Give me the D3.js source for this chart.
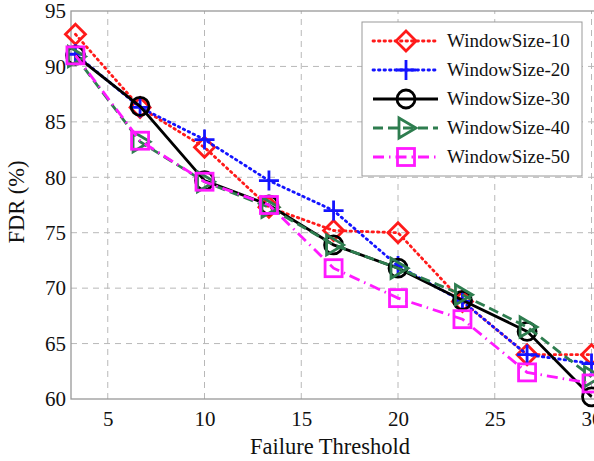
<!DOCTYPE html>
<html>
<head>
<meta charset="utf-8">
<script src="https://cdn.jsdelivr.net/npm/d3@7"></script>
<style>
  body { margin: 0; background: #fff; }
</style>
</head>
<body>
<div id="chart"></div>
<script>
// Donnees
const seuils = [3.33, 6.67, 10, 13.33, 16.67, 20, 23.33, 26.67, 30];
const ws10 = [92.9, 86.3, 82.7, 77.3, 75.2, 75.0, 68.8, 64.0, 64.0];
const ws20 = [91.1, 86.3, 83.4, 79.7, 77.0, 72.0, 68.8, 64.0, 63.2];
const ws30 = [91.0, 86.4, 79.7, 77.5, 73.9, 71.8, 68.9, 66.1, 60.2];
const ws40 = [90.9, 83.2, 79.6, 77.3, 73.9, 71.8, 69.4, 66.5, 62.0];
const ws50 = [91.0, 83.3, 79.6, 77.5, 71.8, 69.1, 67.2, 62.4, 61.4];
const xTicks = [5, 10, 15, 20, 25, 30];
const yTicks = [60, 65, 70, 75, 80, 85, 90, 95];

const POLICE = "Liberation Serif";

const series = [
  {nom: "WindowSize-10", valeurs: ws10, couleur: "#ff1a1a", dash: "1.5,4", marqueur: "diamond"},
  {nom: "WindowSize-20", valeurs: ws20, couleur: "#1414ff", dash: "1.5,4", marqueur: "plus"},
  {nom: "WindowSize-30", valeurs: ws30, couleur: "#000000", dash: null, marqueur: "circle"},
  {nom: "WindowSize-40", valeurs: ws40, couleur: "#2e7d4f", dash: "10,5", marqueur: "triangle"},
  {nom: "WindowSize-50", valeurs: ws50, couleur: "#ff19ff", dash: "11,5,1.5,5", marqueur: "square"}
];

const largeur = 594, hauteur = 461;
const margin = {top: 11, left: 71, bottom: 62};

const svg = d3.select("#chart").append("svg")
    .attr("width", largeur)
    .attr("height", hauteur)
    .style("display", "block");

const x = d3.scaleLinear().domain([3.1, 31]).range([margin.left, margin.left + 27.9 * 19.35]);
const y = d3.scaleLinear().domain([60, 95]).range([hauteur - margin.bottom, margin.top]);

const x0 = x.range()[0], x1 = x.range()[1];
const y0 = y.range()[0], y1 = y.range()[1];

// Grille
const grille = svg.append("g").attr("stroke", "#b8b8b8").attr("stroke-width", 1)
    .attr("stroke-dasharray", "6,5");
grille.selectAll("line.v").data(xTicks).enter().append("line")
    .attr("x1", d => x(d)).attr("x2", d => x(d))
    .attr("y1", y0).attr("y2", y1);
grille.selectAll("line.h").data(yTicks.slice(1, -1)).enter().append("line")
    .attr("x1", x0).attr("x2", x1)
    .attr("y1", d => y(d)).attr("y2", d => y(d));

// Cadre
svg.append("rect")
    .attr("x", x0).attr("y", y1)
    .attr("width", x1 - x0).attr("height", y0 - y1)
    .attr("fill", "none").attr("stroke", "#999").attr("stroke-width", 1.3);

// Axes
const axeX = svg.append("g")
    .attr("transform", "translate(0," + y0 + ")")
    .call(d3.axisBottom(x).tickValues(xTicks).tickSize(0).tickPadding(12));
const axeY = svg.append("g")
    .attr("transform", "translate(" + x0 + ",0)")
    .call(d3.axisLeft(y).tickValues(yTicks).tickSize(0).tickPadding(5));
[axeX, axeY].forEach(a => {
  a.select(".domain").remove();
  a.attr("font-family", POLICE).attr("font-size", 21);
  a.selectAll("text").attr("font-family", POLICE).attr("font-size", 21).attr("fill", "#111");
});

svg.append("text")
    .attr("x", 330).attr("y", 454)
    .attr("text-anchor", "middle")
    .attr("font-family", POLICE)
    .attr("font-size", 22.5).attr("fill", "#111")
    .text("Failure Threshold");

svg.append("text")
    .attr("transform", "translate(24,202) rotate(-90)")
    .attr("text-anchor", "middle")
    .attr("font-family", POLICE)
    .attr("font-size", 22.5).attr("fill", "#111")
    .text("FDR (%)");

// Marqueurs
function dessinerMarqueur(g, type, couleur) {
  const s = 10;
  g.attr("fill", "none").attr("stroke", couleur).attr("stroke-width", 2.8);
  if (type === "diamond") {
    g.append("path").attr("d", `M0,${-s}L${s},0L0,${s}L${-s},0Z`);
  } else if (type === "plus") {
    g.append("path").attr("d", `M${-s},0H${s}M0,${-s}V${s}`);
  } else if (type === "circle") {
    g.append("circle").attr("r", 9);
  } else if (type === "triangle") {
    g.append("path").attr("d", `M${-7},${-s}L${s},0L${-7},${s}Z`);
  } else if (type === "square") {
    g.append("rect").attr("x", -8.5).attr("y", -8.5).attr("width", 17).attr("height", 17);
  }
}

const ligne = d3.line()
    .x((d, i) => x(seuils[i]))
    .y(d => y(d));

series.forEach(s => {
  const g = svg.append("g");
  g.append("path")
      .datum(s.valeurs)
      .attr("d", ligne)
      .attr("fill", "none")
      .attr("stroke", s.couleur)
      .attr("stroke-width", 2.8)
      .attr("stroke-linecap", s.dash && s.dash.startsWith("1.5") ? "round" : "butt")
      .attr("stroke-dasharray", s.dash);
  g.selectAll("g.pt").data(s.valeurs).enter().append("g")
      .attr("transform", (d, i) => "translate(" + x(seuils[i]) + "," + y(d) + ")")
      .each(function() { dessinerMarqueur(d3.select(this), s.marqueur, s.couleur); });
});

// Legende
const legende = svg.append("g");
legende.append("rect")
    .attr("x", 362).attr("y", 22).attr("width", 220).attr("height", 154)
    .attr("fill", "#fff").attr("stroke", "#999").attr("stroke-width", 1);
series.forEach((s, i) => {
  const ly = 41 + i * 29;
  legende.append("line")
      .attr("x1", 373).attr("x2", 438).attr("y1", ly).attr("y2", ly)
      .attr("stroke", s.couleur).attr("stroke-width", 2.8)
      .attr("stroke-linecap", s.dash && s.dash.startsWith("1.5") ? "round" : "butt")
      .attr("stroke-dasharray", s.dash);
  dessinerMarqueur(legende.append("g").attr("transform", "translate(406," + ly + ")"), s.marqueur, s.couleur);
  legende.append("text")
      .attr("x", 447).attr("y", ly + 6)
      .attr("font-family", POLICE)
      .attr("font-size", 19).attr("fill", "#111")
      .text(s.nom);
});
</script>
</body>
</html>
